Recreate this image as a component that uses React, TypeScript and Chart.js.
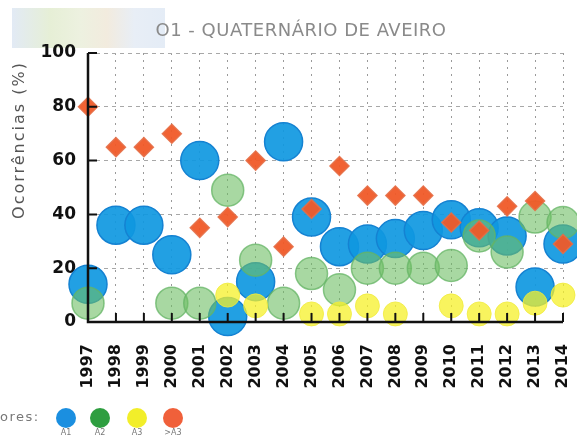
import React, { useEffect, useRef } from "react";
import { Chart, registerables } from "chart.js";

Chart.register(...registerables);

const years = ["1997", "1998", "1999", "2000", "2001", "2002", "2003", "2004", "2005", "2006", "2007", "2008", "2009", "2010", "2011", "2012", "2013", "2014"];
const seriesA1 = [14, 36, 36, 25, 60, 2, 15, 67, 39, 28, 29, 31, 34, 38, 35, 32, 13, 29];
const seriesA2 = [7, null, null, 7, 7, 49, 23, 7, 18, 12, 20, 20, 20, 21, 32, 26, 39, 37];
const seriesA3 = [null, null, null, null, null, 10, 6, null, 3, 3, 6, 3, null, 6, 3, 3, 7, 10];
const seriesGtA3 = [80, 65, 65, 70, 35, 39, 60, 28, 42, 58, 47, 47, 47, 37, 34, 43, 45, 29];
const legendLabels = ["A1", "A2", "A3", ">A3"];
const legendColors = ["#1b8fe0", "#2e9e40", "#f2ee2a", "#f0603a"];
const titleText = "O1 - QUATERNÁRIO DE AVEIRO";
const yTitleText = "Ocorrências (%)";
const legendTitle = "ores:";

const overlayPlugin = {
  id: "overlay",
  afterDatasetsDraw(chart: any) {
    const { ctx, chartArea: a, scales } = chart;
    const x = scales.x;
    const y = scales.y;
    ctx.save();
    ctx.strokeStyle = "#111";
    ctx.lineWidth = 2.5;
    ctx.beginPath();
    ctx.moveTo(a.left, a.top);
    ctx.lineTo(a.left, a.bottom);
    ctx.lineTo(a.right, a.bottom);
    ctx.stroke();
    ctx.lineWidth = 2;
    ctx.beginPath();
    x.ticks.forEach((_: any, i: number) => {
      const px = x.getPixelForTick(i);
      ctx.moveTo(px, a.bottom);
      ctx.lineTo(px, a.bottom - 9);
    });
    y.ticks.forEach((_: any, i: number) => {
      const py = y.getPixelForTick(i);
      ctx.moveTo(a.left, py);
      ctx.lineTo(a.left + 9, py);
    });
    ctx.stroke();
    ctx.restore();
  },
  afterDraw(chart: any) {
    const { ctx } = chart;
    ctx.save();
    ctx.fillStyle = "#8a8a8a";
    ctx.font = "18px 'DejaVu Sans'";
    (ctx as any).letterSpacing = "0.5px";
    ctx.textAlign = "center";
    ctx.textBaseline = "middle";
    ctx.fillText(titleText, 301, 31);
    ctx.restore();

    ctx.save();
    ctx.fillStyle = "#555";
    ctx.font = "16px 'DejaVu Sans'";
    (ctx as any).letterSpacing = "2px";
    ctx.translate(20, 140);
    ctx.rotate(-Math.PI / 2);
    ctx.textAlign = "center";
    ctx.textBaseline = "middle";
    ctx.fillText(yTitleText, 0, 0);
    ctx.restore();
  },
};

export default function App() {
  const ref = useRef<HTMLCanvasElement | null>(null);

  useEffect(() => {
    if (!ref.current) return;
    const common = { showLine: false, clip: false as any };
    const chart = new Chart(ref.current, {
      type: "line",
      data: {
        labels: years,
        datasets: [
          {
            ...common,
            label: ">A3",
            data: seriesGtA3,
            order: 0,
            pointStyle: "rectRot",
            pointRadius: 9.5,
            pointHoverRadius: 9.5,
            pointBackgroundColor: "rgba(240,90,40,0.95)",
            pointBorderColor: "rgba(230,110,70,0.9)",
            pointBorderWidth: 1.5,
          },
          {
            ...common,
            label: "A3",
            data: seriesA3,
            order: 1,
            pointRadius: 12,
            pointHoverRadius: 12,
            pointBackgroundColor: "rgba(245,240,40,0.75)",
            pointBorderColor: "rgba(240,235,60,0.8)",
            pointBorderWidth: 1,
          },
          {
            ...common,
            label: "A2",
            data: seriesA2,
            order: 2,
            pointRadius: 16,
            pointHoverRadius: 16,
            pointBackgroundColor: "rgba(110,190,100,0.6)",
            pointBorderColor: "rgba(100,180,100,0.75)",
            pointBorderWidth: 1.5,
          },
          {
            ...common,
            label: "A1",
            data: seriesA1,
            order: 3,
            pointRadius: 19,
            pointHoverRadius: 19,
            pointBackgroundColor: "rgba(15,152,225,0.92)",
            pointBorderColor: "rgba(20,130,210,1)",
            pointBorderWidth: 1.5,
          },
        ],
      },
      options: {
        animation: false,
        responsive: false,
        devicePixelRatio: 1,
        layout: { autoPadding: false, padding: { left: 0, top: 53, right: 14, bottom: 0 } },
        plugins: {
          legend: { display: false },
          title: { display: false },
          tooltip: { enabled: false },
        },
        scales: {
          x: {
            offset: false,
            grid: { color: "#9a9a9a", lineWidth: 1, drawTicks: false },
            border: { display: false, dash: [2, 5] },
            ticks: {
              autoSkip: false,
              minRotation: 90,
              maxRotation: 90,
              padding: 22,
              color: "#111",
              font: { family: "'DejaVu Sans'", size: 16, weight: "bold" },
            },
            afterFit: (s: any) => {
              s.height = 119;
              s.paddingLeft = 0;
              s.paddingRight = 0;
            },
          },
          y: {
            min: 0,
            max: 100,
            grid: { color: "#a8a8a8", lineWidth: 1, drawTicks: false },
            border: { display: false, dash: [4, 4] },
            ticks: {
              stepSize: 20,
              padding: 12,
              color: "#111",
              font: { family: "'DejaVu Sans'", size: 17, weight: "bold" },
            },
            afterFit: (s: any) => {
              s.width = 88;
            },
          },
        },
      },
      plugins: [overlayPlugin],
    });
    return () => chart.destroy();
  }, []);

  return (
    <div style={{ position: "absolute", left: 0, top: 0, width: 577, height: 441, overflow: "hidden", background: "#fff" }}>
      <div
        style={{
          position: "absolute",
          left: 12,
          top: 8,
          width: 153,
          height: 40,
          background: "linear-gradient(90deg, #e2eaf5 0%, #e6efd6 25%, #edf1e0 45%, #f2ebde 62%, #e8eef6 80%, #e4ecf6 100%)",
        }}
      />
      <canvas ref={ref} width={577} height={441} style={{ position: "absolute", left: 0, top: 0 }} />
      <div style={{ position: "absolute", left: 0, top: 409, fontFamily: "'DejaVu Sans'", fontSize: 13, color: "#777", letterSpacing: 1.5 }}>
        {legendTitle}
      </div>
      {legendLabels.map((lab, i) => {
        const cx = [66, 100, 137, 173][i];
        return (
          <React.Fragment key={lab}>
            <div
              style={{
                position: "absolute",
                left: cx - 10,
                top: 408,
                width: 20,
                height: 20,
                borderRadius: "50%",
                background: legendColors[i],
              }}
            />
            <div
              style={{
                position: "absolute",
                left: cx - 15,
                width: 30,
                top: 428,
                textAlign: "center",
                fontFamily: "'DejaVu Sans'",
                fontSize: 8,
                color: "#777",
              }}
            >
              {lab}
            </div>
          </React.Fragment>
        );
      })}
    </div>
  );
}
